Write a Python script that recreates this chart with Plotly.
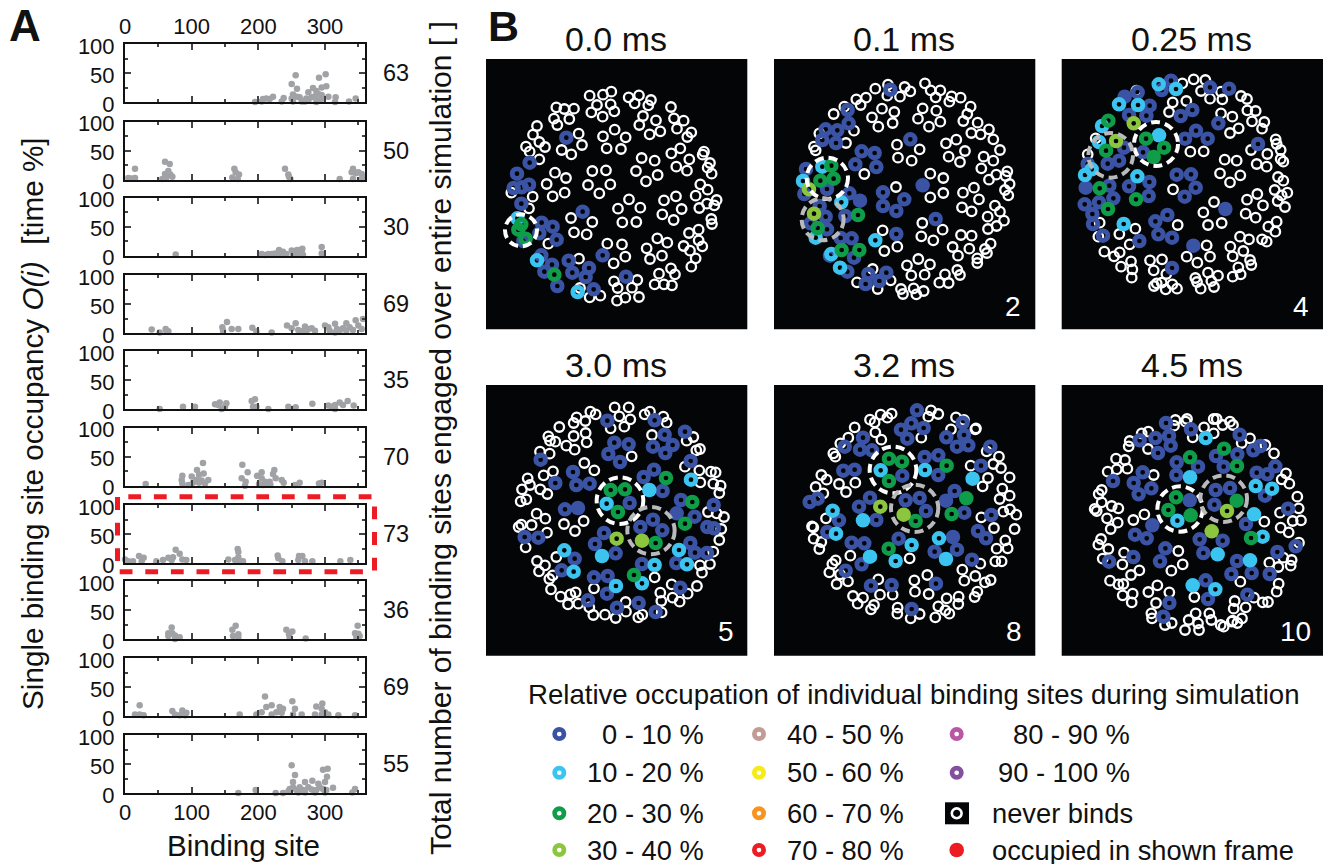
import plotly.graph_objects as go

W, H = 1323, 864
FONT = "Liberation Sans"

# ---------- Panel A: (binding site, occupancy %) ----------
A_COUNTS = [63, 50, 30, 69, 35, 70, 73, 36, 69, 55]
A1 = [(256,46),(301,48),(291,42),(250,31),(258,23),(302,27),(295,25),(282,24),(275,17),(287,19),(290,14),(252,13),(258,9),(262,8),(222,9),(238,7),(212,6),(207,5),(217,5),(195,0),(205,1),(235,1),(250,6),(272,6),(280,8),(285,10),(295,12),(305,9),(316,8),(315,0),(346,6),(336,1),(270,1),(287,0),(252,1),(265,1),(297,6),(292,3),(275,3)]
A2 = [(15,19),(5,3),(15,3),(10,2),(60,31),(67,27),(65,15),(68,9),(60,10),(71,5),(56,1),(62,4),(164,19),(166,13),(171,9),(161,4),(169,1),(240,19),(245,9),(248,1),(246,5),(322,1),(342,19),(340,13),(350,13),(355,10),(357,4),(342,1),(355,1),(346,11)]
A3 = [(76,2),(295,15),(295,4),(210,1),(215,3),(231,10),(237,7),(225,4),(250,9),(258,10),(266,12),(265,7),(267,1),(252,2),(220,3),(242,3),(205,3),(260,3),(230,4),(235,3),(262,10)]
A4 = [(40,6),(52,1),(61,7),(65,3),(62,4),(153,19),(146,10),(147,4),(160,7),(170,7),(191,9),(197,3),(220,1),(243,13),(256,17),(250,8),(260,5),(270,11),(275,7),(280,8),(285,4),(272,3),(300,13),(305,10),(315,16),(318,7),(332,17),(337,10),(346,22),(357,24),(350,13),(327,8),(322,4),(307,4),(315,1),(342,5),(332,4),(355,7),(265,3)]
A5 = [(52,0),(87,4),(105,4),(135,8),(142,11),(152,10),(145,0),(150,4),(140,7),(195,17),(190,14),(192,4),(197,4),(215,0),(245,4),(256,3),(281,9),(305,6),(315,7),(322,11),(334,14),(327,7),(343,6),(315,0),(310,4)]
A6 = [(31,3),(117,39),(108,27),(118,21),(111,19),(86,17),(100,16),(85,10),(86,4),(95,1),(102,5),(107,10),(115,9),(125,10),(120,4),(111,5),(176,36),(184,23),(175,13),(181,7),(180,0),(198,17),(205,23),(224,27),(222,20),(226,13),(205,13),(210,7),(217,7),(201,3),(235,10),(238,5),(207,1),(255,1),(262,5),(291,4),(295,5),(218,2),(212,3)]
A7 = [(0,6),(5,3),(12,3),(21,12),(28,9),(25,3),(47,3),(57,5),(65,9),(72,10),(76,23),(82,16),(70,5),(86,6),(92,5),(155,6),(169,24),(170,19),(170,10),(177,3),(165,5),(229,13),(230,8),(236,3),(261,12),(266,12),(260,5),(270,3),(281,3),(323,3),(338,5),(172,2)]
A8 = [(70,20),(65,10),(71,10),(75,6),(65,5),(82,3),(75,0),(166,23),(161,16),(170,8),(162,5),(170,2),(242,16),(251,13),(246,8),(247,2),(271,1),(349,23),(345,10),(350,9),(352,5),(347,2)]
A9 = [(22,19),(15,3),(22,3),(28,2),(71,9),(75,3),(86,10),(92,6),(82,2),(90,2),(172,3),(197,3),(210,34),(212,16),(220,19),(205,7),(232,16),(237,13),(227,7),(220,3),(251,26),(255,13),(252,3),(265,3),(287,17),(296,22),(295,13),(300,7),(305,3),(320,2),(345,2),(285,3),(295,3),(235,6)]
A10 = [(170,0),(196,5),(226,0),(237,0),(250,48),(255,31),(304,42),(297,40),(303,28),(312,9),(252,19),(270,19),(281,21),(290,16),(300,19),(262,10),(275,10),(292,10),(252,10),(247,7),(257,5),(267,5),(280,6),(287,5),(297,7),(302,5),(245,3),(260,1),(270,1),(285,1),(345,7),(341,1),(300,1)]
A_SERIES = [A1, A2, A3, A4, A5, A6, A7, A8, A9, A10]

# ---------- Panel B: binding-site positions per frame ----------
F1_NEVER = [(329,137),(369,134),(394,125),(351,165),(392,163),(334,187),(368,200),(403,184),(446,142),(477,136),(464,160),(513,150),(505,166),(229,172),(253,177),(282,176),(222,206),(268,207),(232,225),(171,228),(159,254),(178,276),(195,291),(138,290),(149,305),(178,328),(296,251),(306,285),(245,300),(274,313),(369,259),(404,239),(437,262),(380,295),(423,297),(489,198),(478,225),(528,211),(509,253),(541,244),(573,171),(582,205),(611,212),(591,236),(634,247),(622,261),(485,324),(524,332),(468,363),(533,375),(498,394),(574,310),(601,295),(628,328),(589,350),(621,362),(672,305),(668,314),(690,339),(683,353),(695,371),(225,368),(258,384),(200,402),(254,428),(218,439),(337,363),(378,361),(324,405),(391,403),(358,430),(661,403),(683,419),(647,437),(658,474),(681,461),(710,450),(703,466),(694,507),(696,522),(447,448),(481,473),(414,476),(427,517),(469,516),(552,451),(588,439),(605,477),(547,493),(581,510),(94,428),(158,440),(147,475),(273,504),(337,516),(282,547),(320,553),(205,581),(627,549),(656,539),(656,571),(667,589),(611,588),(630,602),(647,625),(634,650),(382,581),(426,583),(436,620),(401,640),(297,626),(500,595),(532,565),(562,578),(546,617),(510,627),(537,671),(573,655),(585,673),(524,703),(552,703),(576,706),(402,694),(472,690),(413,714),(456,713),(411,752),(436,743),(477,741),(300,714),(329,742),(361,737)]
F1_BLUE = [(259,263),(149,338),(111,371),(101,414),(147,404),(125,412),(124,461),(308,485),(185,518),(218,530),(230,569),(178,550),(130,573),(184,616),(216,644),(193,665),(266,632),(277,668),(327,654),(317,681),(232,708),(341,718),(368,616),(438,680)]
F1_CYAN = [(112,505),(171,631),(293,726)]
F1_GREEN = [(124,523),(115,539),(137,566),(223,674)]
F1_LIME = []
F1_FILLED_BLUE, F1_FILLED_CYAN, F1_FILLED_GREEN, F1_FILLED_LIME = [], [], [], []

F2_NEVER = [(316,116),(354,104),(404,111),(421,124),(352,137),(390,140),(465,100),(482,121),(511,121),(497,142),(545,139),(538,155),(572,143),(259,148),(288,143),(272,165),(223,170),(191,192),(336,176),(373,186),(306,202),(325,230),(368,219),(458,175),(499,182),(444,206),(511,215),(477,230),(602,170),(592,192),(580,213),(623,218),(604,249),(632,253),(657,238),(670,268),(690,300),(252,242),(228,279),(148,250),(132,290),(137,301),(528,280),(559,269),(585,303),(536,320),(570,336),(641,320),(670,332),(634,355),(657,389),(679,374),(712,364),(707,378),(719,402),(705,420),(715,436),(381,284),(449,298),(384,323),(425,332),(283,372),(378,411),(481,371),(520,384),(520,429),(481,442),(579,428),(612,413),(627,448),(576,472),(605,484),(653,500),(675,467),(690,485),(702,512),(680,528),(654,537),(457,519),(518,539),(454,559),(490,571),(338,541),(343,603),(382,590),(573,555),(605,557),(548,591),(598,596),(564,617),(662,581),(645,597),(651,609),(622,625),(622,639),(445,627),(411,646),(480,643),(424,676),(464,674),(525,673),(562,660),(570,675),(508,698),(536,699),(308,657),(362,691),(261,697),(323,717),(393,717),(399,732),(431,715),(461,723),(439,733)]
F2_BLUE = [(361,119),(233,180),(236,220),(167,238),(202,241),(157,270),(198,279),(275,304),(314,309),(256,343),(319,351),(108,357),(103,432),(171,417),(238,430),(339,427),(403,448),(339,468),(379,483),(149,468),(167,500),(226,498),(122,520),(171,538),(379,552),(497,507),(421,268),(212,564),(245,565),(180,617),(252,623),(232,665),(295,672),(349,668),(328,693),(287,702)]
F2_CYAN = [(157,350),(99,393),(214,457),(137,563),(316,571),(184,612),(210,653)]
F2_GREEN = [(184,347),(151,392),(191,386),(264,495),(143,534),(215,600),(268,600)]
F2_LIME = [(117,418),(132,491)]
F2_FILLED_BLUE, F2_FILLED_CYAN, F2_FILLED_GREEN, F2_FILLED_LIME = [(458,406),(270,452)], [], [], []

F3_NEVER = [(259,122),(397,100),(431,88),(466,90),(453,123),(480,146),(517,148),(513,125),(368,157),(409,153),(357,186),(573,138),(591,147),(592,181),(617,183),(606,214),(643,216),(636,236),(513,190),(547,200),(540,249),(566,235),(677,268),(680,282),(692,300),(700,335),(603,300),(652,312),(620,342),(650,350),(692,327),(421,305),(461,304),(524,329),(560,332),(510,370),(571,376),(540,397),(684,381),(700,392),(674,420),(712,428),(695,436),(683,453),(705,471),(622,432),(591,449),(639,466),(587,491),(617,503),(369,418),(492,456),(460,487),(474,525),(515,519),(113,313),(137,265),(680,515),(655,530),(676,545),(636,568),(650,575),(383,525),(256,536),(208,552),(145,560),(149,518),(239,583),(570,560),(597,568),(541,590),(580,603),(548,619),(600,630),(604,645),(565,652),(572,673),(548,680),(470,586),(480,620),(410,620),(442,638),(163,605),(192,619),(209,607),(243,634),(213,650),(247,658),(245,683),(300,631),(336,628),(311,661),(349,672),(335,698),(320,700),(312,708),(367,703),(347,718),(381,716),(474,668),(504,677),(436,684),(441,696),(484,693),(452,716),(492,711)]
F3_BLUE = [(363,92),(335,120),(480,112),(537,116),(263,127),(299,167),(237,195),(289,197),(427,180),(392,198),(505,220),(438,242),(405,266),(473,266),(624,282),(222,293),(279,307),(173,341),(207,332),(113,342),(178,407),(298,396),(237,409),(296,438),(380,374),(423,373),(437,413),(404,440),(190,445),(147,457),(104,463),(127,492),(129,522),(352,495),(316,514),(325,553),(366,563),(159,557),(268,573),(366,654)]
F3_CYAN = [(326,103),(378,117),(207,163),(264,165),(156,228),(147,276),(125,358),(105,375),(262,379),(221,522)]
F3_GREEN = [(175,212),(288,266),(168,302),(342,293),(149,415),(258,448),(174,477)]
F3_LIME = [(251,220),(198,273)]
F3_FILLED_BLUE, F3_FILLED_CYAN, F3_FILLED_GREEN, F3_FILLED_LIME = [(107,413),(526,477),(430,587),(224,140)], [(327,256)], [(311,321)], []

F4_NEVER = [(404,97),(446,97),(418,124),(451,133),(392,160),(433,155),(494,118),(510,110),(550,125),(560,143),(331,110),(347,118),(290,127),(316,138),(281,144),(238,156),(281,183),(317,174),(320,202),(205,184),(210,197),(226,200),(259,212),(284,224),(516,180),(640,186),(620,197),(660,222),(649,226),(455,244),(209,236),(180,230),(313,264),(343,286),(219,289),(191,301),(143,310),(150,330),(126,343),(181,343),(202,357),(139,373),(122,379),(658,286),(693,290),(707,292),(700,326),(722,332),(718,354),(661,322),(615,275),(170,416),(196,431),(155,450),(124,449),(116,456),(201,473),(252,447),(311,438),(285,468),(684,411),(710,415),(732,426),(724,462),(718,495),(700,530),(137,517),(229,546),(171,558),(195,571),(177,589),(218,601),(208,612),(213,643),(660,571),(690,567),(666,593),(524,607),(342,640),(287,652),(271,658),(242,665),(264,688),(295,686),(328,697),(575,628),(651,633),(541,653),(623,656),(578,668),(599,680),(544,678),(437,681),(438,710),(340,720),(375,719),(407,729),(545,712),(475,727),(487,719)]
F4_BLUE = [(382,137),(524,136),(615,170),(403,203),(446,208),(385,237),(420,261),(554,179),(578,210),(519,215),(556,234),(182,254),(632,258),(522,284),(491,306),(548,348),(279,291),(289,330),(329,326),(226,324),(449,384),(255,403),(603,375),(644,425),(701,390),(682,456),(702,460),(481,456),(519,434),(547,466),(372,474),(345,507),(407,535),(134,486),(175,488),(284,551),(245,586),(631,504),(645,533),(681,534),(589,564),(486,567),(342,607),(383,603),(381,656),(601,638),(324,676),(411,698),(476,684),(527,711)]
F4_CYAN = [(633,314),(380,386),(253,526),(281,590),(597,525),(621,568),(524,570),(408,633),(486,625)]
F4_GREEN = [(558,309),(392,345),(435,343),(414,411),(637,381),(615,446),(527,504),(462,600)]
F4_LIME = [(410,491)]
F4_FILLED_BLUE, F4_FILLED_CYAN, F4_FILLED_GREEN, F4_FILLED_LIME = [(294,399),(590,415)], [(508,345),(366,543)], [], [(486,497)]

F5_NEVER = [(365,116),(352,128),(332,119),(300,134),(314,142),(254,157),(316,172),(334,194),(235,188),(211,205),(190,235),(196,245),(483,106),(505,117),(475,125),(558,127),(582,135),(618,160),(616,163),(543,163),(454,188),(687,245),(650,229),(670,267),(693,279),(719,307),(602,272),(654,309),(638,334),(154,300),(170,314),(137,336),(160,355),(207,327),(256,323),(228,351),(697,341),(719,362),(689,372),(700,410),(720,403),(739,419),(634,427),(672,459),(734,462),(168,430),(126,454),(130,457),(131,491),(154,501),(148,522),(706,496),(680,521),(713,520),(676,559),(695,559),(631,566),(241,542),(419,550),(197,556),(187,567),(178,592),(210,598),(200,627),(234,619),(577,584),(616,603),(583,617),(472,600),(433,616),(435,650),(476,657),(662,615),(645,622),(622,650),(614,666),(566,665),(530,670),(565,687),(505,694),(526,706),(538,716),(496,727),(325,613),(330,659),(368,659),(249,663),(279,668),(263,686),(312,690),(303,703),(383,698),(382,716),(449,717),(422,730)]
F5_BLUE = [(441,106),(424,145),(393,164),(461,159),(412,191),(578,143),(582,180),(529,187),(561,215),(595,211),(661,215),(279,188),(224,215),(270,224),(306,226),(464,246),(505,241),(505,300),(633,272),(220,287),(254,284),(397,302),(300,368),(267,395),(319,435),(143,371),(119,381),(207,436),(172,471),(407,376),(449,369),(468,408),(554,348),(583,413),(664,420),(624,468),(648,490),(386,491),(561,524),(494,530),(245,503),(283,505),(275,568),(606,554),(227,587),(303,632),(365,630),(498,626),(425,702)]
F5_CYAN = [(332,286),(465,285),(188,407),(198,476),(507,490),(425,510),(377,558)]
F5_GREEN = [(357,251),(396,260),(530,272),(357,318),(545,417),(437,438),(356,521)]
F5_LIME = [(331,395)]
F5_FILLED_BLUE, F5_FILLED_CYAN, F5_FILLED_GREEN, F5_FILLED_LIME = [(528,377),(549,486)], [(608,311),(279,436),(300,545),(528,552)], [(589,370)], [(401,419)]

F6_NEVER = [(376,135),(372,152),(411,132),(407,140),(462,157),(428,187),(491,132),(500,132),(491,175),(518,150),(540,140),(549,150),(600,190),(575,204),(295,170),(275,175),(239,198),(236,214),(294,222),(646,210),(672,235),(198,251),(225,255),(173,290),(200,283),(232,281),(311,300),(708,295),(695,313),(718,326),(155,345),(146,357),(155,382),(134,402),(185,393),(205,400),(140,408),(171,430),(203,443),(182,462),(250,435),(283,418),(742,365),(746,400),(690,413),(728,438),(753,436),(692,458),(716,472),(643,440),(153,492),(145,509),(175,522),(158,551),(222,533),(217,568),(268,586),(243,600),(385,528),(398,568),(364,587),(747,503),(700,548),(725,555),(722,572),(658,563),(685,576),(571,620),(180,617),(205,628),(220,627),(218,661),(248,656),(245,682),(322,631),(295,651),(358,652),(318,684),(304,715),(306,730),(433,666),(686,626),(680,650),(638,682),(654,681),(612,668),(587,697),(554,678),(551,701),(548,737),(437,715),(416,735),(444,745),(405,765),(447,765),(365,744),(345,750),(478,715),(484,735),(512,750),(521,755),(545,740),(562,744),(576,730)]
F6_BLUE = [(348,144),(423,163),(316,189),(357,183),(269,196),(362,212),(324,234),(569,179),(631,213),(610,226),(562,238),(498,243),(521,275),(380,262),(444,275),(379,300),(278,292),(189,318),(251,324),(304,340),(266,358),(620,293),(652,298),(676,274),(645,362),(497,345),(540,339),(493,389),(714,401),(588,447),(255,479),(290,490),(449,493),(518,497),(460,534),(346,520),(330,559),(250,546),(177,560),(682,531),(737,514),(561,558),(544,597),(605,594),(659,597),(467,616),(474,672),(592,659),(358,684),(340,725)]
F6_CYAN = [(467,189),(617,333),(666,341),(382,437),(638,485),(496,643)]
F6_GREEN = [(420,247),(522,221),(561,273),(378,367),(355,405),(603,489)]
F6_LIME = [(531,408)]
F6_FILLED_BLUE, F6_FILLED_CYAN, F6_FILLED_GREEN, F6_FILLED_LIME = [(419,376),(307,451)], [(420,307),(612,418),(503,538),(600,556),(428,631)], [(560,377),(422,421)], [(485,469)]

FRAME_TITLES = ["0.0 ms", "0.1 ms", "0.25 ms", "3.0 ms", "3.2 ms", "4.5 ms"]
FRAME_LABELS = ["", "2", "4", "5", "8", "10"]
# dashed cluster outlines per frame: (cx, cy, r)
F_WHITE_CIRCLE = [(123,541,48), (172,385,62), (318,282,66), (420,377,70), (369,285,70), (390,402,68)]
F_GRAY_CIRCLE = [None, (158,508,63), (182,316,67), (513,467,71), (434,400,71), (521,371,70)]

LEGEND_LABELS = ["0 - 10 %", "10 - 20 %", "20 - 30 %", "30 - 40 %", "40 - 50 %", "50 - 60 %",
                 "60 - 70 %", "70 - 80 %", "80 - 90 %", "90 - 100 %"]
LEGEND_COLORS = ["#3a53a4", "#3cc4f0", "#0f9d4a", "#8cc63f", "#c49a94", "#f6eb14",
                 "#f7941e", "#ed1c24", "#b957a5", "#8350a0"]

# ---------- layout helpers ----------
BLUE, CYAN, GREEN, LIME = LEGEND_COLORS[:4]
BLACK = "#040506"
GRAY = "#a0a2a5"
CLEAR = "rgba(0,0,0,0)"

def px(x): return x / W
def py(y): return 1 - y / H

fig = go.Figure()
layout = dict(width=W, height=H, margin=dict(l=0, r=0, t=0, b=0, pad=0, autoexpand=False), showlegend=False,
              paper_bgcolor="white", plot_bgcolor=CLEAR, autosize=False,
              font=dict(family=FONT, color="#111111"))
annotations, shapes = [], []

def text(x, y, s, size, anchor="center", angle=0, color="#111111", bold=False):
    annotations.append(dict(x=px(x), y=py(y), xref="paper", yref="paper", text=f"<b>{s}</b>" if bold else s,
                            showarrow=False, xanchor=anchor, yanchor="middle", textangle=angle,
                            font=dict(family=FONT, size=size, color=color)))

A_TOPS = [44, 121.7, 197.7, 275, 351, 427.7, 505, 581, 658.3, 735]
A_H = 58
for i, pts in enumerate(A_SERIES):
    n = i + 1
    sfx = "" if n == 1 else str(n)
    top = A_TOPS[i]
    xkw = dict(domain=[px(125), px(365)], range=[0, 360], anchor=f"y{sfx}", dtick=100, tick0=0,
               ticks="inside", ticklen=6, tickwidth=1.8, showline=True, linewidth=2, linecolor="#111111",
               mirror="allticks", showgrid=False, zeroline=False,
               minor=dict(ticks="inside", ticklen=3, tickwidth=1.8, dtick=50, tick0=0, showgrid=False),
               tickfont=dict(family=FONT, size=22, color="#111111"), showticklabels=n in (1, 10),
               side="top" if n == 1 else "bottom", ticklabelstandoff=-1)
    ykw = dict(domain=[py(top + A_H), py(top)], range=[0, 100], anchor=f"x{sfx}", dtick=50, tick0=0,
               ticks="inside", ticklen=6, tickwidth=1.8, showline=True, linewidth=2, linecolor="#111111",
               mirror="allticks", showgrid=False, zeroline=False,
               minor=dict(ticks="inside", ticklen=3, tickwidth=1.8, dtick=25, tick0=0, showgrid=False),
               tickfont=dict(family=FONT, size=22, color="#111111"), ticklabelstandoff=4, ticklabelshift=2)
    layout[f"xaxis{sfx}"] = xkw
    layout[f"yaxis{sfx}"] = ykw
    fig.add_trace(go.Scatter(x=[p[0] for p in pts], y=[p[1] for p in pts], mode="markers", cliponaxis=False,
                             marker=dict(size=6.5, color=GRAY), xaxis=f"x{sfx}", yaxis=f"y{sfx}"))
    text(396, top + A_H / 2, str(A_COUNTS[i]), 23.5)

text(33, 424, "Single binding site occupancy <i>O(i)</i>  [time %]", 29.7, angle=-90)
text(440, 438, "Total number of binding sites engaged over entire simulation [ ]", 30, angle=-90)
text(243, 845, "Binding site", 29.6)
text(25, 26, "A", 44, bold=True)
text(503, 26, "B", 43, bold=True)

# red dashed frame around the seventh row
rx0, rx1, ry0, ry1, rstart = 117.5, 374.5, 496.7, 571.7, 128.3
path = (f"M {px(rstart)} {py(ry0)} L {px(rx1)} {py(ry0)} L {px(rx1)} {py(ry1)} "
        f"L {px(rx0)} {py(ry1)} L {px(rx0)} {py(ry0)}")
shapes.append(dict(type="path", path=path, xref="paper", yref="paper",
                   line=dict(color="#ed1c24", width=5, dash="12.8px,12.8px")))

FRAMES = [
    (F1_NEVER, F1_BLUE, F1_CYAN, F1_GREEN, F1_LIME, F1_FILLED_BLUE, F1_FILLED_CYAN, F1_FILLED_GREEN, F1_FILLED_LIME),
    (F2_NEVER, F2_BLUE, F2_CYAN, F2_GREEN, F2_LIME, F2_FILLED_BLUE, F2_FILLED_CYAN, F2_FILLED_GREEN, F2_FILLED_LIME),
    (F3_NEVER, F3_BLUE, F3_CYAN, F3_GREEN, F3_LIME, F3_FILLED_BLUE, F3_FILLED_CYAN, F3_FILLED_GREEN, F3_FILLED_LIME),
    (F4_NEVER, F4_BLUE, F4_CYAN, F4_GREEN, F4_LIME, F4_FILLED_BLUE, F4_FILLED_CYAN, F4_FILLED_GREEN, F4_FILLED_LIME),
    (F5_NEVER, F5_BLUE, F5_CYAN, F5_GREEN, F5_LIME, F5_FILLED_BLUE, F5_FILLED_CYAN, F5_FILLED_GREEN, F5_FILLED_LIME),
    (F6_NEVER, F6_BLUE, F6_CYAN, F6_GREEN, F6_LIME, F6_FILLED_BLUE, F6_FILLED_CYAN, F6_FILLED_GREEN, F6_FILLED_LIME),
]
# panel placement (pixels) and source ranges (site coordinate units = 1/3 px)
P_LEFT = [486, 774, 1061.7, 486, 774, 1061.7]
P_TOP = [59, 59, 59, 385, 385, 385]
P_BOTTOM = [329.3, 329.3, 329.3, 655.7, 655.7, 655.7]
P_X0 = [18, 12, 35, 18, 12, 35]
P_Y0 = [27, 27, 27, 30, 30, 30]
LABEL_X = [0, 1013, 1300.7, 725.7, 1014, 1295.7]
LABEL_Y = [0, 306, 306, 631, 631, 631]

def add_marks(pts, ax, ay, color, filled=False, never=False):
    if not pts:
        return
    if never:
        m = dict(size=9.5, color=CLEAR, line=dict(color="white", width=2.3))
    elif filled:
        m = dict(size=14.5, color=color, line=dict(width=0))
    else:
        m = dict(size=9.6, color=CLEAR, line=dict(color=color, width=4.9))
    fig.add_trace(go.Scatter(x=[p[0] for p in pts], y=[p[1] for p in pts], mode="markers", marker=m,
                             xaxis=ax, yaxis=ay, cliponaxis=False))

for k, fr in enumerate(FRAMES):
    n = 11 + k
    ax, ay = f"x{n}", f"y{n}"
    left, top, bottom = P_LEFT[k], P_TOP[k], P_BOTTOM[k]
    right = left + 261.3
    layout[f"xaxis{n}"] = dict(domain=[px(left), px(right)], range=[P_X0[k], P_X0[k] + 784], visible=False, anchor=ay)
    layout[f"yaxis{n}"] = dict(domain=[py(bottom), py(top)], range=[P_Y0[k] + 3 * (bottom - top), P_Y0[k]],
                               visible=False, anchor=ax)
    shapes.append(dict(type="rect", xref="paper", yref="paper", x0=px(left), x1=px(right), y0=py(bottom), y1=py(top),
                       fillcolor=BLACK, line=dict(width=0), layer="below"))
    never, blue, cyan, green, lime, fb, fc, fg, fl = fr
    add_marks(never, ax, ay, "white", never=True)
    add_marks(fb, ax, ay, BLUE, filled=True)
    add_marks(blue, ax, ay, BLUE)
    add_marks(cyan, ax, ay, CYAN)
    add_marks(fc, ax, ay, CYAN, filled=True)
    add_marks(green, ax, ay, GREEN)
    add_marks(fg, ax, ay, GREEN, filled=True)
    add_marks(lime, ax, ay, LIME)
    add_marks(fl, ax, ay, LIME, filled=True)
    for c, col in ((F_WHITE_CIRCLE[k], "white"), (F_GRAY_CIRCLE[k], "#b8babc")):
        if c:
            cx, cy, r = c
            shapes.append(dict(type="circle", xref=ax, yref=ay, x0=cx - r, x1=cx + r, y0=cy - r, y1=cy + r,
                               line=dict(color=col, width=4, dash="9px,5px")))
    text(left + 130, top - 20, FRAME_TITLES[k], 34)
    if FRAME_LABELS[k]:
        text(LABEL_X[k], LABEL_Y[k], FRAME_LABELS[k], 28, color="white")

# legend of panel B on a pixel-unit overlay
layout["xaxis17"] = dict(domain=[0, 1], range=[0, W], visible=False, anchor="y17")
layout["yaxis17"] = dict(domain=[0, 1], range=[H, 0], visible=False, anchor="x17")
text(913.5, 694, "Relative occupation of individual binding sites during simulation", 27.6)
ROW_Y = [734, 772.7, 813.3, 850]
COL_X = [559.3, 759, 956.7]
COL_END = [706, 906, 1132]
swatch = [(0, r) for r in range(4)] + [(1, r) for r in range(4)] + [(2, r) for r in range(2)]
for (c, r), lab, col in zip(swatch, LEGEND_LABELS, LEGEND_COLORS):
    fig.add_trace(go.Scatter(x=[COL_X[c]], y=[ROW_Y[r]], mode="markers", xaxis="x17", yaxis="y17",
                             marker=dict(size=9.3, color=CLEAR, line=dict(color=col, width=4.7))))
    text(COL_END[c], ROW_Y[r], lab, 27.3, anchor="right")
shapes.append(dict(type="rect", xref="paper", yref="paper", x0=px(945), x1=px(969), y0=py(824.3),
                   y1=py(802.3), fillcolor=BLACK, line=dict(width=0), layer="below"))
fig.add_trace(go.Scatter(x=[COL_X[2]], y=[ROW_Y[2]], mode="markers", xaxis="x17", yaxis="y17",
                         marker=dict(size=9.8, color=CLEAR, line=dict(color="white", width=2.6))))
fig.add_trace(go.Scatter(x=[COL_X[2]], y=[ROW_Y[3]], mode="markers", xaxis="x17", yaxis="y17",
                         marker=dict(size=14.6, color="#ed1c24")))
text(990, ROW_Y[2], "never binds", 27.3, anchor="left")
text(990, ROW_Y[3], "occupied in shown frame", 27.3, anchor="left")

layout["annotations"] = annotations
layout["shapes"] = shapes
fig.update_layout(**layout)
fig.write_html("out.html", config=dict(displayModeBar=False),
               post_script="document.body.style.margin='0';document.documentElement.style.overflow='hidden';")
